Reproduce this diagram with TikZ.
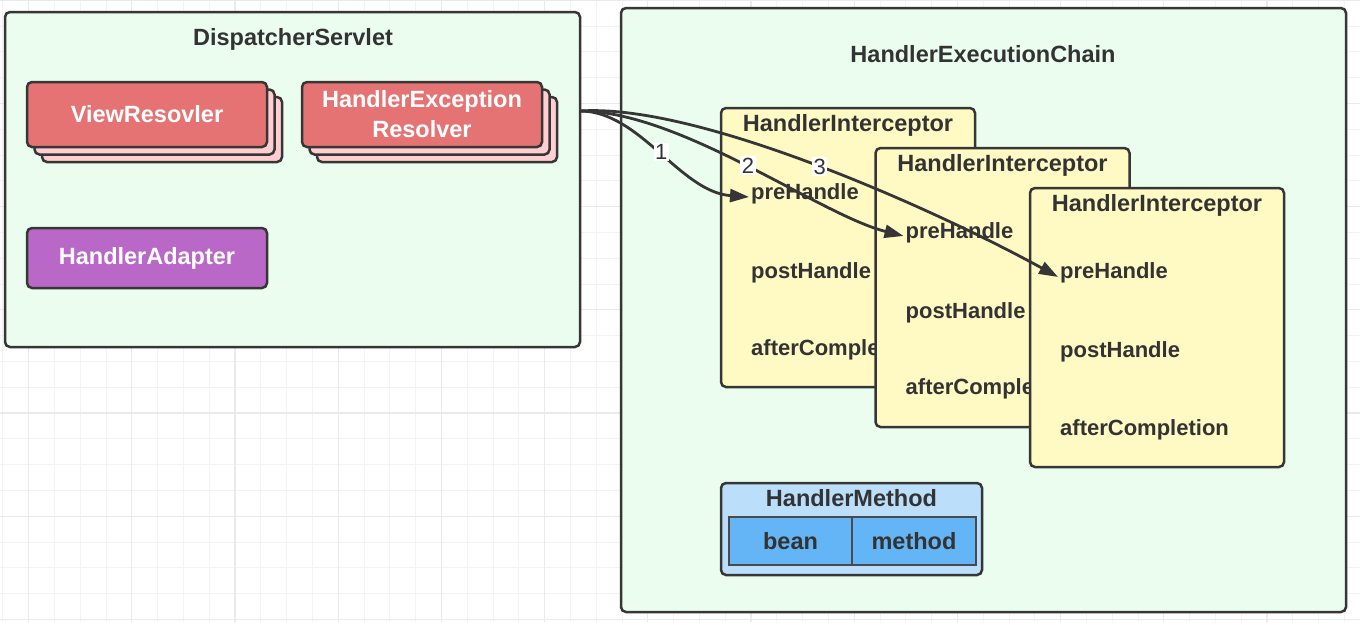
\documentclass[tikz,border=0pt]{standalone}
\usepackage{fontspec}
\setmainfont{Liberation Sans}
\usetikzlibrary{arrows.meta}
\definecolor{bord}{HTML}{363636}
\definecolor{txt}{HTML}{333333}
\definecolor{greenbg}{HTML}{EBFDEF}
\definecolor{redf}{HTML}{E57373}
\definecolor{pinkb}{HTML}{FFCDD2}
\definecolor{purp}{HTML}{BA68C8}
\definecolor{yel}{HTML}{FFF9C4}
\definecolor{bluel}{HTML}{BBDEFB}
\definecolor{blued}{HTML}{64B5F6}
\definecolor{gridmin}{HTML}{F3F3F3}
\definecolor{gridmaj}{HTML}{EAEAEA}
\newcommand\bigf{\fontsize{23.5}{30}\selectfont\bfseries}
\newcommand\itmf{\fontsize{22}{26}\selectfont\bfseries}
\newcommand\lblf{\fontsize{22}{26}\selectfont}
\tikzset{
  box/.style={draw=bord, line width=2.5pt, rounded corners=5pt, anchor=north west,
    inner sep=0pt, outer sep=0pt},
  container/.style={box, fill=greenbg},
  redbox/.style={box, fill=redf, text=white, font=\bigf, align=center,
    minimum width=240pt, minimum height=65pt},
  pinkbox/.style={box, fill=pinkb, minimum width=240pt, minimum height=65pt},
  purpbox/.style={box, fill=purp, text=white, font=\bigf,
    minimum width=240pt, minimum height=60pt},
  interbox/.style={box, fill=yel, minimum width=254pt, minimum height=279pt},
  ttl/.style={text=txt, font=\bigf, inner sep=0pt},
  itm/.style={text=txt, font=\itmf, anchor=mid west, inner sep=2pt},
  hmbox/.style={box, fill=bluel, minimum width=261pt, minimum height=92pt},
  cell/.style={draw=bord!90, line width=1.5pt, fill=blued, anchor=north west,
    minimum height=48pt, text=txt, font=\bigf, inner sep=0pt, outer sep=0pt},
  conn/.style={draw=bord, line width=2.8pt, -{Triangle[length=19pt,width=13pt]}},
  lbl/.style={fill=white, text=txt, font=\lblf, inner sep=1.5pt, pos=0.5}
}
\begin{document}
\begin{tikzpicture}[x=1pt,y=-1pt]
\useasboundingbox (0,0) rectangle (1360,622);
\fill[white] (0,0) rectangle (1360,622);
% grid
\foreach \i in {0,...,53} {
  \pgfmathsetmacro{\gx}{2.8+25.8*\i}
  \draw[gridmin, line width=1pt] (\gx,0) -- (\gx,622);
}
\foreach \i in {0,...,24} {
  \pgfmathsetmacro{\gy}{0.2+25.8*\i}
  \draw[gridmin, line width=1pt] (0,\gy) -- (1360,\gy);
}
\foreach \i in {0,...,13} {
  \pgfmathsetmacro{\gx}{28.6+103.2*\i}
  \draw[gridmaj, line width=1.2pt] (\gx,0) -- (\gx,622);
}
\foreach \i in {0,...,6} {
  \pgfmathsetmacro{\gy}{0.2+103.2*\i}
  \draw[gridmaj, line width=1.2pt] (0,\gy) -- (1360,\gy);
}

% DispatcherServlet
\node[container, minimum width=575pt, minimum height=335pt] (ds) at (5,12) {};
\node[ttl] (dst) at (293,39) {DispatcherServlet};
\node[pinkbox] (vrb2) at (42,97) {};
\node[pinkbox] (vrb1) at (34.5,89.5) {};
\node[redbox] (vr) at (27,82) {ViewResovler};
\node[pinkbox] (herb2) at (317,97) {};
\node[pinkbox] (herb1) at (309.5,89.5) {};
\node[redbox] (her) at (302,82) {HandlerException\\Resolver};
\node[purpbox] (ha) at (27,228) {HandlerAdapter};

% HandlerExecutionChain
\node[container, minimum width=725pt, minimum height=604pt] (hec) at (621,8) {};
\node[ttl] (hect) at (983,54) {HandlerExecutionChain};

\node[interbox] (hi1) at (721,108) {};
\node[ttl] (hi1t) at (848,125) {HandlerInterceptor};
\node[itm] (pre1) at (749,197) {preHandle};
\node[itm] (post1) at (749,276) {postHandle};
\node[itm] (after1) at (749,353) {afterCompletion};

\node[interbox] (hi2) at (875.5,148) {};
\node[ttl] (hi2t) at (1002.5,165) {HandlerInterceptor};
\node[itm] (pre2) at (903.5,236) {preHandle};
\node[itm] (post2) at (903.5,316) {postHandle};
\node[itm] (after2) at (903.5,392) {afterCompletion};

\node[interbox] (hi3) at (1030,188) {};
\node[ttl] (hi3t) at (1157,205) {HandlerInterceptor};
\node[itm] (pre3) at (1058,276) {preHandle};
\node[itm] (post3) at (1058,355) {postHandle};
\node[itm] (after3) at (1058,433) {afterCompletion};

% HandlerMethod
\node[hmbox] (hm) at (721,483) {};
\node[ttl] (hmt) at (851.5,498) {HandlerMethod};
\node[cell, minimum width=123pt] (bean) at (729,517) {bean};
\node[cell, minimum width=124pt] (meth) at (852,517) {method};

% connectors
\coordinate (src) at (ds.east |- 0,111);
\draw[conn] (src) .. controls (640,111) and (680,192) .. node[lbl] {1} ([yshift=-3pt]pre1.west);
\draw[conn] (src) .. controls (680,111) and (820,215) .. node[lbl] {2} ([yshift=-3pt]pre2.west);
\draw[conn] (src) .. controls (700,103) and (940,212) .. node[lbl] {3} ([yshift=-4pt]pre3.west);
\end{tikzpicture}
\end{document}
